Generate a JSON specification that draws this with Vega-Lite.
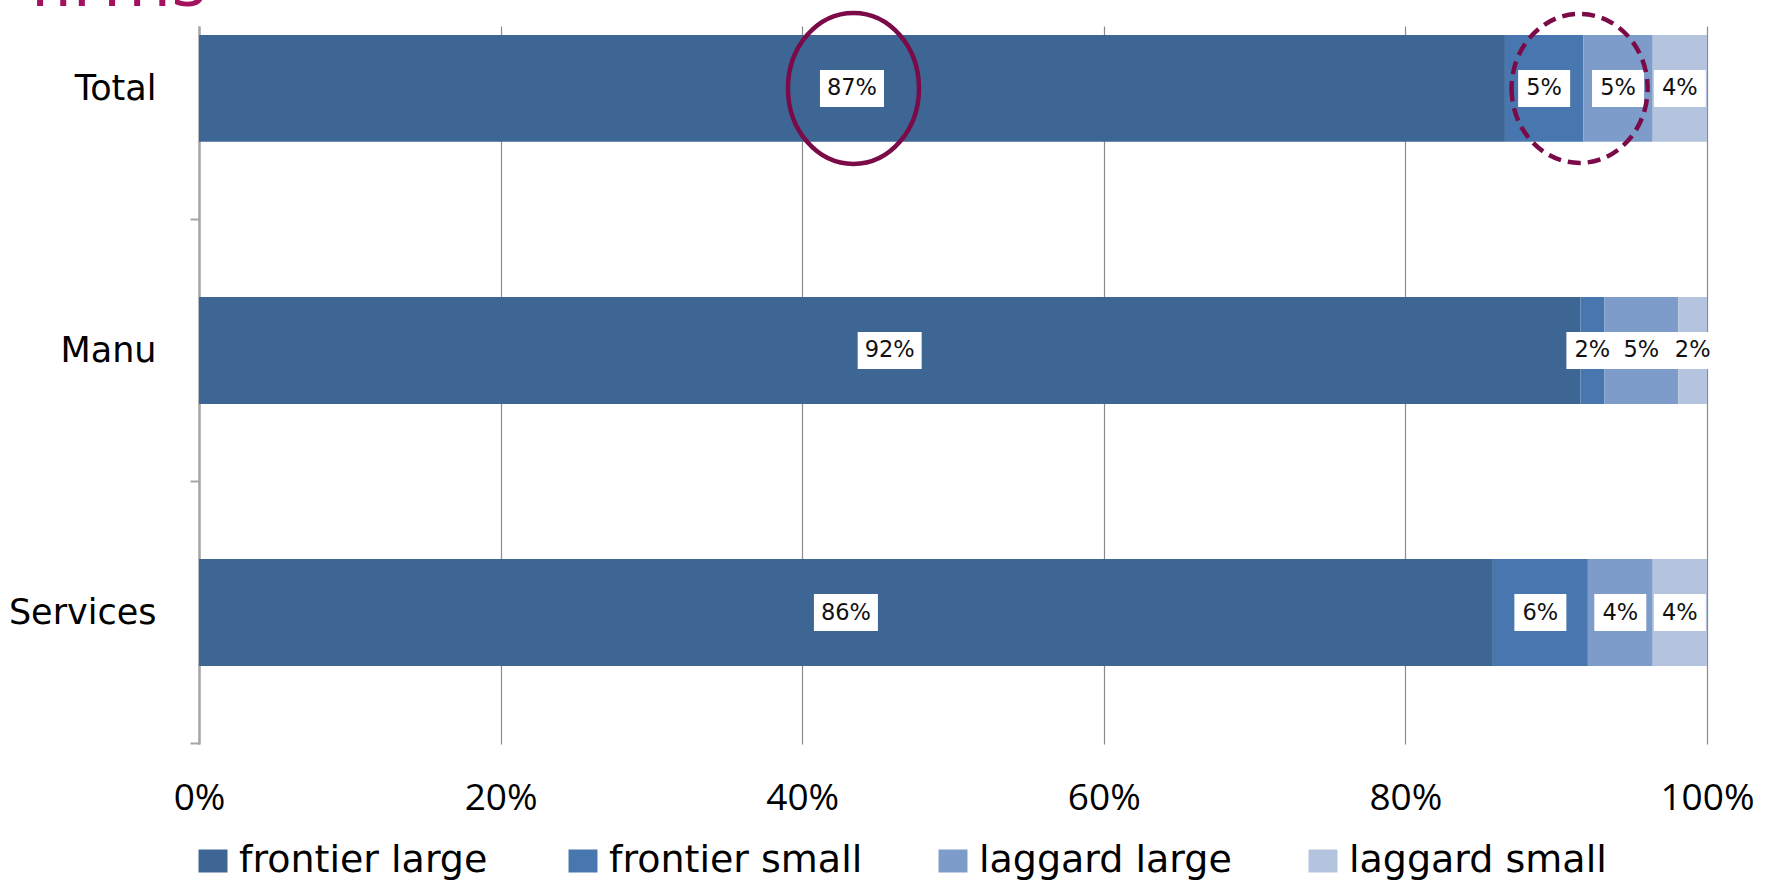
{
  "$schema": "https://vega.github.io/schema/vega-lite/v6.json",
  "width": 1508,
  "height": 718,
  "autosize": {"type": "none"},
  "padding": {"left": 199, "top": 26, "right": 74, "bottom": 138},
  "background": "white",
  "title": {"text": "firms", "anchor": "start", "frame": "group", "orient": "top", "offset": -76, "dx": -170, "baseline": "alphabetic", "fontSize": 74, "font": "Open Sans", "fontWeight": "normal", "color": "#a3125f"},
  "config": {"view": {"stroke": null}},
  "datasets": {
    "shares": [
      {"cat": "Total", "series": "frontier large", "value": 0.866},
      {"cat": "Total", "series": "frontier small", "value": 0.052},
      {"cat": "Total", "series": "laggard large", "value": 0.046},
      {"cat": "Total", "series": "laggard small", "value": 0.036},
      {"cat": "Manu", "series": "frontier large", "value": 0.916},
      {"cat": "Manu", "series": "frontier small", "value": 0.016},
      {"cat": "Manu", "series": "laggard large", "value": 0.049},
      {"cat": "Manu", "series": "laggard small", "value": 0.019},
      {"cat": "Services", "series": "frontier large", "value": 0.858},
      {"cat": "Services", "series": "frontier small", "value": 0.063},
      {"cat": "Services", "series": "laggard large", "value": 0.043},
      {"cat": "Services", "series": "laggard small", "value": 0.036}
    ],
    "notes": [
      {"cat": "Total", "value": 0.434, "kind": "solid"},
      {"cat": "Total", "value": 0.9155, "kind": "dashed"}
    ]
  },
  "data": {"name": "shares"},
  "encoding": {
    "y": {
      "field": "cat", "type": "nominal", "sort": ["Total", "Manu", "Services"],
      "scale": {"paddingInner": 0.592, "paddingOuter": 0.166, "align": 0.103},
      "axis": {"title": null, "domain": true, "domainColor": "#a6a6a6", "domainWidth": 2.5, "ticks": true, "tickColor": "#a6a6a6", "tickWidth": 2, "tickSize": 9, "bandPosition": 1, "tickOffset": 77.5, "labelOffset": -77.5, "labelFont": "DejaVu Sans", "labelFontSize": 35, "labelColor": "black", "labelPadding": 34, "grid": false}
    }
  },
  "layer": [
    {
      "mark": {"type": "bar"},
      "encoding": {
        "x": {"field": "value", "type": "quantitative", "stack": "zero", "scale": {"domain": [0, 1], "nice": false},
          "axis": {"title": null, "values": [0, 0.2, 0.4, 0.6, 0.8, 1], "format": ".0%", "grid": true, "gridColor": "#8a8a8a", "gridWidth": 1.2, "domain": false, "ticks": false, "tickSize": 0, "labelFont": "Open Sans", "labelFontSize": 37, "labelColor": "black", "labelBaseline": "middle", "labelPadding": 54, "labelFlush": false, "labelOverlap": false}},
        "color": {"field": "series", "type": "nominal",
          "scale": {"domain": ["frontier large", "frontier small", "laggard large", "laggard small"], "range": ["#3d6695", "#4877b0", "#7e9cc9", "#b5c4de"]},
          "legend": {"orient": "none", "legendX": -5, "legendY": 816, "direction": "horizontal", "columns": 4, "title": null, "padding": 0, "labelFont": "DejaVu Sans", "labelFontSize": 38, "labelColor": "black", "symbolType": "M -1.26 -1 H 1.26 V 1 H -1.26 Z", "symbolSize": 529, "symbolStrokeWidth": 0, "symbolOpacity": 1, "labelOffset": 7, "columnPadding": 67, "gridAlign": "all", "labelLimit": 400}},
        "order": {"field": "series"}
      }
    },
    {
      "mark": {"type": "point", "filled": true, "opacity": 1, "size": 4, "color": "white", "strokeWidth": 0},
      "encoding": {
        "x": {"field": "value", "type": "quantitative", "stack": "zero", "bandPosition": 0.5,
          "axis": {"title": null, "values": [0, 0.2, 0.4, 0.6, 0.8, 1], "format": ".0%", "grid": true, "gridColor": "#8a8a8a", "gridWidth": 1.2, "domain": false, "ticks": false, "tickSize": 0, "labelFont": "Open Sans", "labelFontSize": 37, "labelColor": "black", "labelBaseline": "middle", "labelPadding": 54, "labelFlush": false, "labelOverlap": false}},
        "detail": {"field": "series"},
        "order": {"field": "series"},
        "shape": {"condition": {"test": "datum.value >= 0.095", "value": "M -32 -18.5 H 32 V 18.5 H -32 Z"}, "value": "M -26 -18.5 H 26 V 18.5 H -26 Z"}
      }
    },
    {
      "mark": {"type": "text", "font": "DejaVu Sans", "fontSize": 22.5, "color": "#111111"},
      "encoding": {
        "x": {"field": "value", "type": "quantitative", "stack": "zero", "bandPosition": 0.5,
          "axis": {"title": null, "values": [0, 0.2, 0.4, 0.6, 0.8, 1], "format": ".0%", "grid": true, "gridColor": "#8a8a8a", "gridWidth": 1.2, "domain": false, "ticks": false, "tickSize": 0, "labelFont": "Open Sans", "labelFontSize": 37, "labelColor": "black", "labelBaseline": "middle", "labelPadding": 54, "labelFlush": false, "labelOverlap": false}},
        "detail": {"field": "series"},
        "order": {"field": "series"},
        "text": {"field": "value", "type": "quantitative", "format": ".0%"}
      }
    },
    {
      "data": {"name": "notes"},
      "transform": [{"filter": "datum.kind === 'solid'"}],
      "mark": {"type": "point", "filled": false, "opacity": 1, "size": 4, "stroke": "#7a0a48", "strokeWidth": 4.5, "shape": "M -65.5 0 A 65.5 75.5 0 1 0 65.5 0 A 65.5 75.5 0 1 0 -65.5 0 Z"},
      "encoding": {"x": {"field": "value", "type": "quantitative",
          "axis": {"title": null, "values": [0, 0.2, 0.4, 0.6, 0.8, 1], "format": ".0%", "grid": true, "gridColor": "#8a8a8a", "gridWidth": 1.2, "domain": false, "ticks": false, "tickSize": 0, "labelFont": "Open Sans", "labelFontSize": 37, "labelColor": "black", "labelBaseline": "middle", "labelPadding": 54, "labelFlush": false, "labelOverlap": false}}}
    },
    {
      "data": {"name": "notes"},
      "transform": [{"filter": "datum.kind === 'dashed'"}],
      "mark": {"type": "point", "filled": false, "opacity": 1, "size": 4, "stroke": "#7a0a48", "strokeWidth": 4.5, "strokeDash": [13, 7], "shape": "M -68 0 A 68 74.5 0 1 0 68 0 A 68 74.5 0 1 0 -68 0 Z"},
      "encoding": {"x": {"field": "value", "type": "quantitative",
          "axis": {"title": null, "values": [0, 0.2, 0.4, 0.6, 0.8, 1], "format": ".0%", "grid": true, "gridColor": "#8a8a8a", "gridWidth": 1.2, "domain": false, "ticks": false, "tickSize": 0, "labelFont": "Open Sans", "labelFontSize": 37, "labelColor": "black", "labelBaseline": "middle", "labelPadding": 54, "labelFlush": false, "labelOverlap": false}}}
    }
  ]
}
